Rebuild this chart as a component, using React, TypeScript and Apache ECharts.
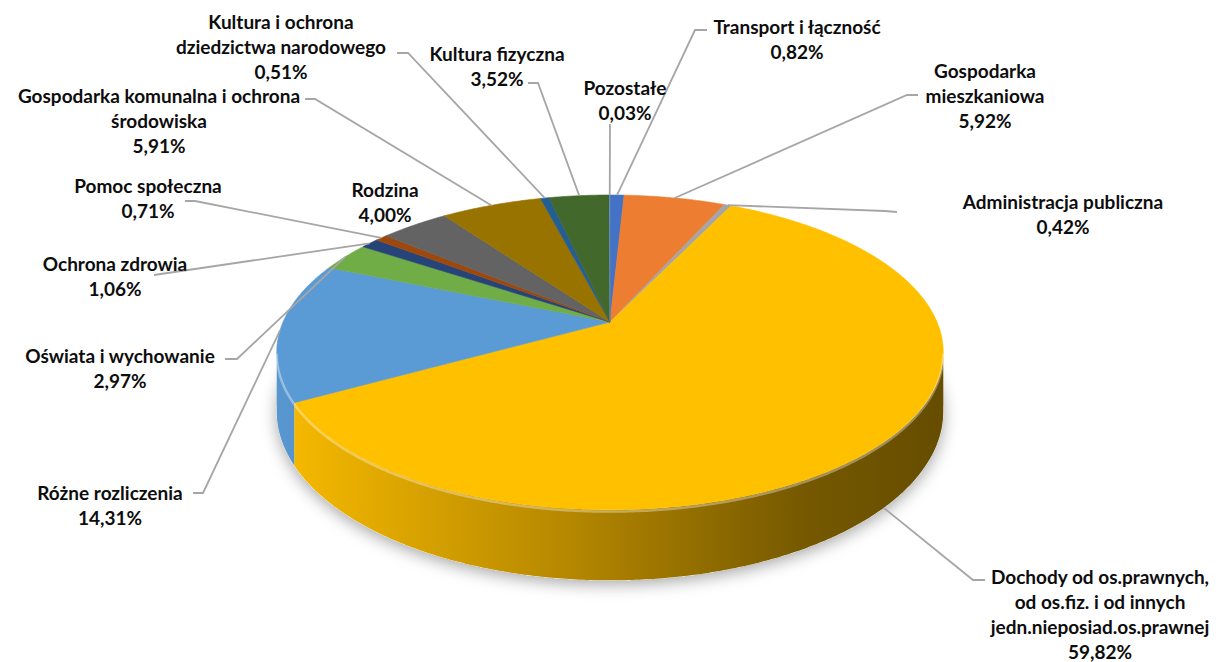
import React, { useEffect, useRef } from 'react';
import * as echarts from 'echarts';

// ---- data ----
const categories = [
  'Transport i łączność',
  'Gospodarka\nmieszkaniowa',
  'Administracja publiczna',
  'Dochody od os.prawnych,\nod os.fiz. i od innych\njedn.nieposiad.os.prawnej',
  'Różne rozliczenia',
  'Oświata i wychowanie',
  'Ochrona zdrowia',
  'Pomoc społeczna',
  'Rodzina',
  'Gospodarka komunalna i ochrona\nśrodowiska',
  'Kultura i ochrona\ndziedzictwa narodowego',
  'Kultura fizyczna',
  'Pozostałe',
];
const values = [0.82, 5.92, 0.42, 59.82, 14.31, 2.97, 1.06, 0.71, 4.0, 5.91, 0.51, 3.52, 0.03];
const colors = [
  '#4472C4', '#ED7D31', '#A5A5A5', '#FFC000', '#5B9BD5', '#70AD47', '#264478',
  '#9E480E', '#636363', '#997300', '#255E91', '#43682B', '#698ED0',
];

// ---- layout (label placement, not data) ----
type LabelPos = { x: number; y: number; leader: number[][]; base?: boolean };
const labelLayout: LabelPos[] = [
  { x: 797, y: 26, leader: [[695, 30], [707, 30]] },
  { x: 985, y: 70, leader: [[907, 95], [918, 95]] },
  { x: 1063, y: 201, leader: [[885, 211], [897, 212]] },
  { x: 1100, y: 576, leader: [[973, 580], [985, 580]], base: true },
  { x: 110, y: 492, leader: [[203, 493], [193, 493]] },
  { x: 120, y: 355, leader: [[237, 359], [225, 359]] },
  { x: 115, y: 263, leader: [[154, 275]] },
  { x: 148, y: 185, leader: [[195, 201], [185, 201]] },
  { x: 385, y: 189, leader: [] },
  { x: 159, y: 95, leader: [[315, 99], [305, 99]] },
  { x: 281, y: 21, leader: [[408, 53], [397, 53]] },
  { x: 497, y: 53, leader: [[538, 83], [528, 83]] },
  { x: 625, y: 87, leader: [[610, 124]] },
];

const GEO = { cx: 610, cy: 322, rx: 327, ry: 151.5, k: 0.193, depth: 57 };
const LINE_H = 25.2;
const FONT = 'bold 19px Lato, "Open Sans", sans-serif';

function proj(a: number, down: number): number[] {
  const u = Math.sin(a);
  const v = -Math.cos(a);
  const w = 1 - GEO.k * v;
  return [GEO.cx + (GEO.rx * u) / w, GEO.cy + (GEO.ry * v + down) / w];
}
function arc(a0: number, a1: number, down: number): number[][] {
  const n = Math.max(2, Math.ceil((a1 - a0) / (Math.PI / 360)) + 1);
  const pts: number[][] = [];
  for (let i = 0; i < n; i++) pts.push(proj(a0 + ((a1 - a0) * i) / (n - 1), down));
  return pts;
}
function shade(hex: string, f: number): string {
  const n = parseInt(hex.slice(1), 16);
  const r = Math.min(255, Math.round(((n >> 16) & 255) * f));
  const g = Math.min(255, Math.round(((n >> 8) & 255) * f));
  const b = Math.min(255, Math.round((n & 255) * f));
  return `rgb(${r},${g},${b})`;
}
function fmt(v: number): string {
  return v.toFixed(2).replace('.', ',') + '%';
}

export default function App() {
  const ref = useRef<HTMLDivElement>(null);
  useEffect(() => {
    const chart = echarts.init(ref.current!, undefined, { renderer: 'svg' });
    const total = values.reduce((s, v) => s + v, 0);
    const A0 = Math.acos(-GEO.k);
    const A1 = 2 * Math.PI - A0;

    const renderItem = (params: any, api: any) => {
      const i = params.dataIndex;
      const val = api.value(0);
      let before = 0;
      for (let j = 0; j < i; j++) before += values[j];
      const s = (before / total) * 2 * Math.PI;
      const e = ((before + val) / total) * 2 * Math.PI;
      const color = colors[i];
      const children: any[] = [];

      if (i === 0) {
        children.push({
          type: 'polygon',
          z2: 0,
          shape: { points: arc(0, 2 * Math.PI, GEO.depth) },
          style: { fill: '#ffffff', shadowBlur: 16, shadowColor: 'rgba(0,0,0,0.35)', shadowOffsetY: 4 },
        });
      }

      const ws = Math.max(s, A0);
      const we = Math.min(e, A1);
      if (we > ws) {
        const topArc = arc(ws, we, 0);
        const botArc = arc(ws, we, GEO.depth).reverse();
        children.push({
          type: 'polygon',
          z2: 2,
          shape: { points: topArc.concat(botArc) },
          style: {
            fill: {
              type: 'linear',
              x: GEO.cx - GEO.rx,
              y: 0,
              x2: GEO.cx + GEO.rx,
              y2: 0,
              global: true,
              colorStops: [
                { offset: 0, color: shade(color, 0.97) },
                { offset: 0.45, color: shade(color, 0.7) },
                { offset: 0.8, color: shade(color, 0.46) },
                { offset: 1, color: shade(color, 0.4) },
              ],
            },
            stroke: 'none',
          },
        });
        children.push({
          type: 'polyline',
          z2: 6,
          shape: { points: arc(ws, we, 1.5) },
          style: { stroke: 'rgba(255,255,255,0.35)', lineWidth: 2.5, fill: null },
        });
      }

      children.push({
        type: 'polygon',
        z2: 5,
        shape: { points: [[GEO.cx, GEO.cy]].concat(arc(s, e, 0)) },
        style: { fill: color, stroke: color, lineWidth: 0.6 },
      });

      const lay = labelLayout[i];
      const mid = (s + e) / 2;
      if (lay.leader.length) {
        const anchor = proj(mid, lay.base ? GEO.depth : 0);
        children.push({
          type: 'polyline',
          z2: 8,
          shape: { points: [anchor].concat(lay.leader) },
          style: { stroke: '#A6A6A6', lineWidth: 1.8, fill: null },
        });
      }
      const lines = categories[i].split('\n').concat([fmt(val)]);
      lines.forEach((t, li) => {
        children.push({
          type: 'text',
          z2: 9,
          style: {
            text: t,
            x: lay.x,
            y: lay.y + li * LINE_H,
            font: FONT,
            lineHeight: 18,
            fill: '#0d0d0d',
            align: 'center',
            verticalAlign: 'middle',
            textAlign: 'center',
            textVerticalAlign: 'middle',
          },
        });
      });
      return { type: 'group', children };
    };

    chart.setOption({
      animation: false,
      backgroundColor: '#ffffff',
      series: [
        {
          type: 'custom',
          coordinateSystem: 'none',
          renderItem,
          data: values.map((v, i) => ({ value: v, name: categories[i] })),
        },
      ],
    });
    return () => chart.dispose();
  }, []);
  return (
    <div
      ref={ref}
      style={{ position: 'fixed', left: 0, top: 0, width: 1225, height: 662, background: '#fff' }}
    />
  );
}
